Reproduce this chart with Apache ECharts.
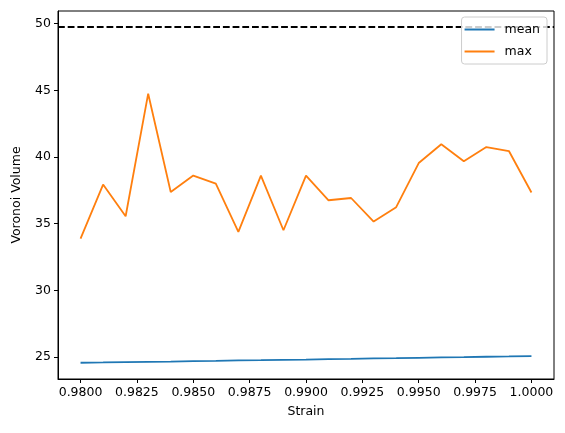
<!DOCTYPE html>
<html>
<head>
	<meta charset="utf-8"/>
	<title>Voronoi Volume vs Strain</title>
	<script src="https://cdn.jsdelivr.net/npm/echarts@6/dist/echarts.min.js"></script>
	<style>
		* { padding: 0px; margin: 0px; }
		body { background: #ffffff; }
		#chart { width: 565px; height: 433px; }
	</style>
</head>
<body>
	<div id="chart"></div>
	<script>
		// data
		var strain = [0.980, 0.981, 0.982, 0.983, 0.984, 0.985, 0.986, 0.987, 0.988, 0.989, 0.990,
			0.991, 0.992, 0.993, 0.994, 0.995, 0.996, 0.997, 0.998, 0.999, 1.000];
		var meanVol = [24.58, 24.60, 24.63, 24.65, 24.67, 24.70, 24.72, 24.75, 24.77, 24.80, 24.82,
			24.85, 24.87, 24.90, 24.92, 24.95, 24.98, 25.00, 25.03, 25.05, 25.08];
		var maxVol = [33.89, 37.94, 35.56, 44.75, 37.38, 38.61, 38.01, 34.39, 38.61, 34.51, 38.61,
			36.76, 36.93, 35.16, 36.24, 39.55, 40.96, 39.68, 40.75, 40.45, 37.34];
		var refLine = 49.75;
		var xTicks = [0.98, 0.9825, 0.985, 0.9875, 0.99, 0.9925, 0.995, 0.9975, 1.0];
		var yTicks = [25, 30, 35, 40, 45, 50];

		function pairs(xs, ys) {
			var out = [];
			for (var i = 0; i < xs.length; ++i) out.push([xs[i], ys[i]]);
			return out;
		}

		var font = 'DejaVu Sans';
		var fs = 12.5;
		var myChart = echarts.init(document.getElementById('chart'));
		var option = {
			animation: false,
			textStyle: { fontFamily: font },
			grid: {
				left: 58, right: 11, top: 11, bottom: 54,
				show: true, borderColor: '#000', borderWidth: 1
			},
			legend: {
				orient: 'vertical',
				right: 18, top: 17,
				z: 50,
				backgroundColor: 'rgba(255,255,255,0.8)',
				borderColor: '#cccccc', borderWidth: 1, borderRadius: 3,
				padding: [6, 7, 6, 3],
				itemGap: 9,
				itemWidth: 30, itemHeight: 2,
				icon: 'rect',
				textStyle: { fontFamily: font, fontSize: fs, color: '#000', padding: [0, 0, 0, 5] },
				data: ['mean', 'max']
			},
			xAxis: {
				type: 'value',
				min: 0.979, max: 1.001,
				name: 'Strain',
				nameLocation: 'middle',
				nameGap: 26,
				nameTextStyle: { fontFamily: font, fontSize: fs, color: '#000' },
				splitLine: { show: false },
				axisLine: { show: true, onZero: false, lineStyle: { color: '#000', width: 1 } },
				axisTick: { show: true, length: 4, customValues: xTicks, lineStyle: { color: '#000' } },
				axisLabel: {
					customValues: xTicks, margin: 7,
					fontFamily: font, fontSize: fs, color: '#000',
					formatter: function (v) { return v.toFixed(4); }
				}
			},
			yAxis: {
				type: 'value',
				min: 23.36, max: 50.95,
				name: 'Voronoi Volume',
				nameLocation: 'middle',
				nameGap: 35,
				nameTextStyle: { fontFamily: font, fontSize: fs, color: '#000' },
				splitLine: { show: false },
				axisLine: { show: true, onZero: false, lineStyle: { color: '#000', width: 1 } },
				axisTick: { show: true, length: 4, customValues: yTicks, lineStyle: { color: '#000' } },
				axisLabel: {
					customValues: yTicks, margin: 7,
					fontFamily: font, fontSize: fs, color: '#000'
				}
			},
			series: [
				{
					name: 'mean',
					type: 'line',
					data: pairs(strain, meanVol),
					showSymbol: false,
					color: '#1f77b4',
					lineStyle: { width: 1.8, color: '#1f77b4' },
					markLine: {
						silent: true,
						symbol: 'none',
						z: 1,
						label: { show: false },
						lineStyle: { color: '#000', width: 1.8, type: [6.8, 2.9] },
						data: [{ yAxis: refLine }]
					}
				},
				{
					name: 'max',
					type: 'line',
					data: pairs(strain, maxVol),
					showSymbol: false,
					color: '#ff7f0e',
					lineStyle: { width: 1.8, color: '#ff7f0e' }
				}
			]
		};
		myChart.setOption(option, true);
	</script>
</body>
</html>
